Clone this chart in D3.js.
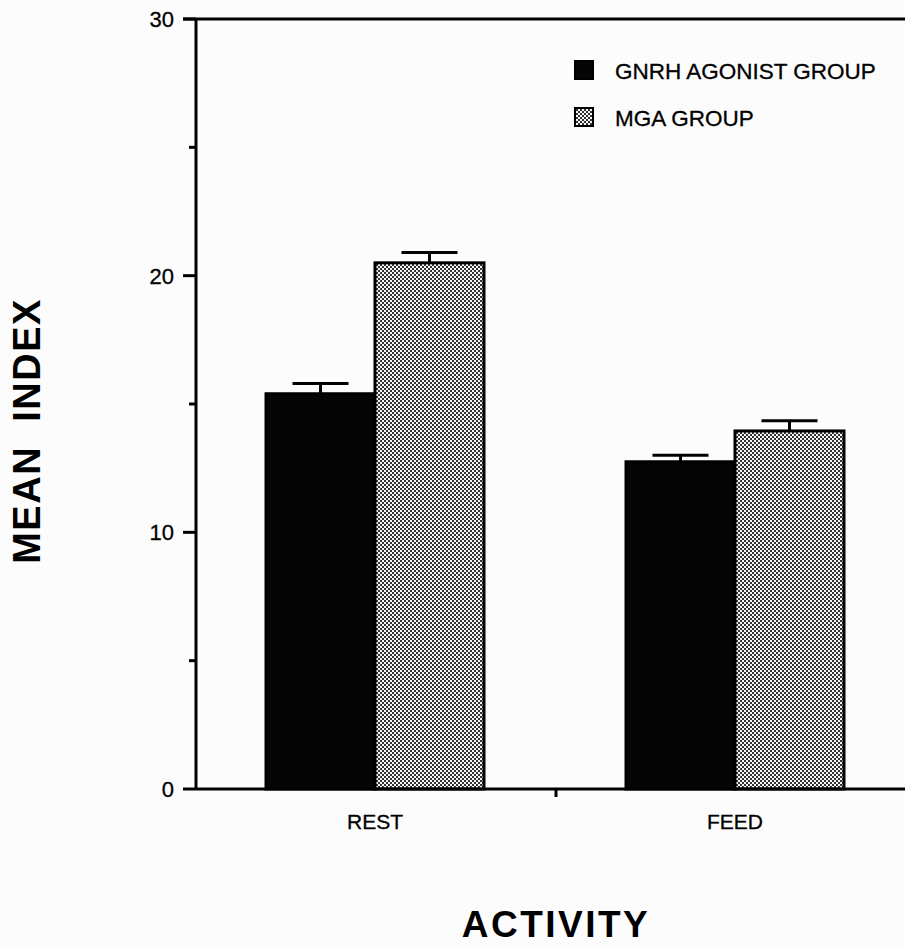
<!DOCTYPE html>
<html>
<head>
<meta charset="utf-8">
<script src="https://cdn.jsdelivr.net/npm/d3@7"></script>
<style>
  body { margin: 0; background: #fcfcfc; overflow: hidden; }
  svg { display: block; }
</style>
</head>
<body>
<svg id="chart"></svg>
<script>
// data
const activities = ["REST", "FEED"]
const groups = ["GNRH AGONIST GROUP", "MGA GROUP"]
const gnrhMeans = [15.4, 12.75]
const gnrhErrors = [0.4, 0.25]
const mgaMeans = [20.5, 13.95]
const mgaErrors = [0.4, 0.4]
const yTicks = [0, 10, 20, 30]
const yMinorTicks = [5, 15, 25]

const config = {
    width: 905,
    height: 947,
    left: 196,
    right: 916,
    top: 19,
    bottom: 789,
    font: "'Liberation Sans', Arial, Helvetica, sans-serif"
}

const svg = d3.select("svg#chart")
    .attr("width", config.width)
    .attr("height", config.height)
    .style("background-color", "#fcfcfc")

// checker fill used for the MGA bars
const defs = svg.append("defs")
const pat = defs.append("pattern")
    .attr("id", "dots")
    .attr("patternUnits", "userSpaceOnUse")
    .attr("width", 4).attr("height", 4)
pat.append("rect").attr("width", 4).attr("height", 4).attr("fill", "#f6f6f6")
pat.append("rect").attr("x", 0).attr("y", 0).attr("width", 2).attr("height", 2).attr("fill", "#333")
pat.append("rect").attr("x", 2).attr("y", 2).attr("width", 2).attr("height", 2).attr("fill", "#333")

const y = d3.scaleLinear().domain([0, 30]).range([config.bottom, config.top])
const x0 = d3.scaleBand().domain(activities).range([config.left, config.right])
const x1 = d3.scaleBand().domain(groups).range([70, 288])

const rows = activities.map((a, i) => ({
    activity: a,
    values: [
        { group: groups[0], mean: gnrhMeans[i], err: gnrhErrors[i] },
        { group: groups[1], mean: mgaMeans[i], err: mgaErrors[i] }
    ]
}))

const fillFor = g => g === groups[0] ? "#050505" : "url(#dots)"

const groupSel = svg.selectAll("g.activity")
    .data(rows)
    .join("g")
    .attr("class", "activity")
    .attr("transform", d => `translate(${x0(d.activity)},0)`)

// error bars (upper only), drawn before bars so the stem sits on the bar top
groupSel.each(function (d) {
    const g = d3.select(this)
    d.values.forEach(v => {
        const cx = x1(v.group) + x1.bandwidth() / 2
        g.append("line")
            .attr("x1", cx).attr("x2", cx)
            .attr("y1", y(v.mean)).attr("y2", y(v.mean + v.err))
            .style("stroke", "#000").style("stroke-width", 3)
        g.append("line")
            .attr("x1", cx - 28).attr("x2", cx + 28)
            .attr("y1", y(v.mean + v.err)).attr("y2", y(v.mean + v.err))
            .style("stroke", "#000").style("stroke-width", 3)
    })
})

groupSel.selectAll("rect")
    .data(d => d.values)
    .join("rect")
    .attr("x", d => x1(d.group))
    .attr("y", d => y(d.mean))
    .attr("width", x1.bandwidth())
    .attr("height", d => y(0) - y(d.mean))
    .style("fill", d => fillFor(d.group))
    .style("stroke", "#000")
    .style("stroke-width", 3)

// y axis
svg.append("line")
    .attr("x1", config.left).attr("x2", config.left)
    .attr("y1", config.top).attr("y2", config.bottom)
    .style("stroke", "#000").style("stroke-width", 3)

svg.selectAll("line.ytick")
    .data(yTicks)
    .join("line")
    .attr("class", "ytick")
    .attr("x1", config.left - 13).attr("x2", config.left)
    .attr("y1", d => y(d)).attr("y2", d => y(d))
    .style("stroke", "#000").style("stroke-width", 3)

svg.selectAll("line.yminor")
    .data(yMinorTicks)
    .join("line")
    .attr("class", "yminor")
    .attr("x1", config.left - 7).attr("x2", config.left)
    .attr("y1", d => y(d)).attr("y2", d => y(d))
    .style("stroke", "#000").style("stroke-width", 3)

svg.selectAll("text.ylabel")
    .data(yTicks)
    .join("text")
    .attr("class", "ylabel")
    .attr("x", 174)
    .attr("y", d => y(d) + 8)
    .attr("text-anchor", "end")
    .style("font-family", config.font)
    .style("font-size", "22px")
    .style("stroke", "#000").style("stroke-width", 0.3)
    .text(d => d)

// top frame line and bottom axis
svg.append("line")
    .attr("x1", config.left - 13).attr("x2", config.right)
    .attr("y1", config.top).attr("y2", config.top)
    .style("stroke", "#000").style("stroke-width", 3)

svg.append("line")
    .attr("x1", config.left).attr("x2", config.right)
    .attr("y1", config.bottom).attr("y2", config.bottom)
    .style("stroke", "#000").style("stroke-width", 3)

svg.append("line")
    .attr("x1", x0("FEED")).attr("x2", x0("FEED"))
    .attr("y1", config.bottom).attr("y2", config.bottom + 8)
    .style("stroke", "#000").style("stroke-width", 3)

svg.selectAll("text.xlabel")
    .data(activities)
    .join("text")
    .attr("class", "xlabel")
    .attr("x", d => x0(d) + x1.range()[0] + (x1.range()[1] - x1.range()[0]) / 2)
    .attr("y", 829)
    .attr("text-anchor", "middle")
    .style("font-family", config.font)
    .style("font-size", "21px")
    .style("stroke", "#000").style("stroke-width", 0.3)
    .text(d => d)

// axis titles
svg.append("text")
    .attr("x", 556).attr("y", 937)
    .attr("text-anchor", "middle")
    .style("font-family", config.font)
    .style("font-weight", "bold")
    .style("font-size", "37px")
    .style("letter-spacing", "2.5px")
    .text("ACTIVITY")

svg.append("text")
    .attr("transform", "translate(40,431) rotate(-90)")
    .attr("text-anchor", "middle")
    .style("font-family", config.font)
    .style("font-weight", "bold")
    .style("font-size", "38px")
    .style("letter-spacing", "1.5px")
    .style("white-space", "pre")
    .text("MEAN  INDEX")

// legend
const legend = svg.append("g").attr("transform", "translate(574,60)")
const item = legend.selectAll("g")
    .data(groups)
    .join("g")
    .attr("transform", (d, i) => `translate(0,${i * 47})`)
item.append("rect")
    .attr("x", 1).attr("y", 1)
    .attr("width", 18).attr("height", 18)
    .style("fill", d => fillFor(d))
    .style("stroke", "#000")
    .style("stroke-width", 2)
item.append("text")
    .attr("x", 41).attr("y", 19)
    .style("font-family", config.font)
    .style("font-size", "22.5px")
    .style("stroke", "#000").style("stroke-width", 0.3)
    .text(d => d)
</script>
</body>
</html>
